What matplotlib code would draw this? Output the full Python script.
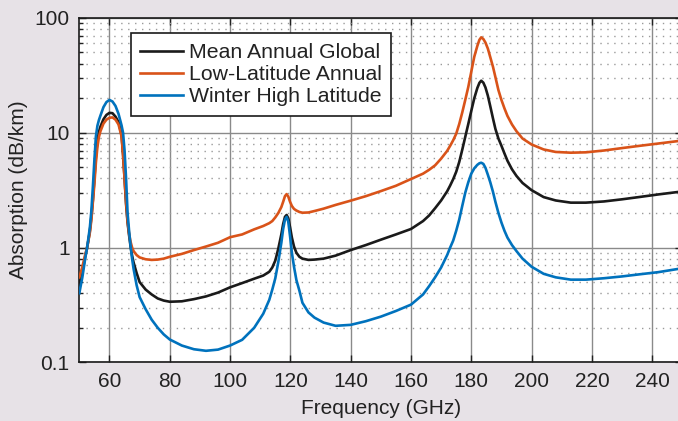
import numpy as np
import matplotlib.pyplot as plt
from matplotlib.ticker import FixedLocator, FixedFormatter, LogLocator, NullFormatter

# frequency grid (GHz)
freq = [50, 50.5, 51, 51.5, 52, 52.5, 53, 53.5, 54, 54.5, 55, 55.5, 56, 56.5, 57,
        58, 59, 60, 61, 62, 63, 64,
        64.5, 65, 65.5, 66, 66.5, 67, 67.5, 68, 69, 70,
        72, 74, 76, 78, 80, 84, 88, 92, 96, 100, 104, 108, 111,
        113, 114, 115, 116, 117, 117.6, 118.2, 118.75, 119.3, 119.9, 120.5, 121.2, 122, 123, 124,
        126, 128, 131, 135, 140, 145, 150, 155, 160,
        164, 166, 168, 170, 172, 173, 174,
        175, 176, 177, 178, 179, 180, 181, 182, 182.7, 183.3, 184, 184.7, 185.5, 186.3, 187.2,
        188, 189, 190, 191, 192, 193.5, 195, 197, 200,
        204, 208, 213, 218, 224, 230, 236, 242, 250]

mean_global = [0.47, 0.54, 0.62, 0.72, 0.85, 0.97, 1.15, 1.4, 1.85, 2.6, 4.0, 6.2, 8.5, 10.2, 11.3,
               13.1, 14.3, 14.9, 14.8, 13.8, 12.4, 9.6,
               6.5, 4.0, 2.4, 1.65, 1.28, 1.02, 0.85, 0.74, 0.6, 0.5,
               0.43, 0.39, 0.36, 0.345, 0.337, 0.34, 0.355, 0.375, 0.405, 0.45, 0.49, 0.535, 0.57,
               0.615, 0.67, 0.77, 0.98, 1.3, 1.6, 1.85, 1.92, 1.8, 1.5, 1.22, 1.02, 0.9, 0.83, 0.8,
               0.78, 0.785, 0.8, 0.85, 0.95, 1.05, 1.17, 1.3, 1.45,
               1.7, 1.9, 2.2, 2.57, 3.09, 3.47, 3.94,
               4.57, 5.56, 7.1, 9.2, 11.9, 15.5, 20, 24.5, 27.2, 28.4, 27.3, 24.8, 21, 17, 13.3,
               10.8, 8.9, 7.7, 6.6, 5.7, 4.8, 4.2, 3.65, 3.16,
               2.75, 2.57, 2.46, 2.46, 2.52, 2.63, 2.76, 2.9, 3.08]

low_lat = [0.55, 0.61, 0.68, 0.77, 0.88, 0.98, 1.15, 1.35, 1.75, 2.5, 3.6, 5.5, 7.5, 9.2, 10.3,
           12.0, 13.0, 13.5, 13.6, 13.0, 11.8, 9.3,
           6.5, 4.0, 2.5, 1.7, 1.32, 1.12, 1.0, 0.93, 0.86, 0.82,
           0.79, 0.78, 0.785, 0.8, 0.83, 0.88, 0.95, 1.02, 1.1, 1.23, 1.3, 1.44, 1.54,
           1.63, 1.7, 1.83, 2.0, 2.25, 2.5, 2.8, 2.92, 2.78, 2.5, 2.3, 2.17, 2.1, 2.04, 2.01,
           2.02, 2.08, 2.18, 2.35, 2.56, 2.8, 3.1, 3.45, 3.95,
           4.4, 4.75, 5.2, 5.95, 6.95, 7.7, 8.6,
           9.8, 11.9, 15.0, 19.3, 25, 34, 46, 57, 64.5, 67.8, 65.5, 61, 54, 45.5, 37.5,
           30.5, 23.5, 19.3, 16.3, 14, 11.8, 10.3, 8.9, 7.9,
           7.15, 6.8, 6.7, 6.75, 7.0, 7.35, 7.7, 8.05, 8.55]

winter_high = [0.40, 0.47, 0.55, 0.67, 0.82, 0.97, 1.2, 1.5, 2.1, 3.4, 5.8, 9.3, 11.5, 12.9, 14.1,
               16.7, 18.5, 19.3, 18.7, 17.1, 14.6, 11.6,
               10.0, 7.0, 4.0, 2.0, 1.4, 1.03, 0.8, 0.65, 0.47, 0.37,
               0.29, 0.235, 0.2, 0.175, 0.158, 0.14, 0.13, 0.126, 0.129, 0.14, 0.157, 0.2, 0.265,
               0.35, 0.43, 0.54, 0.75, 1.1, 1.45, 1.75, 1.85, 1.68, 1.25, 0.9, 0.68, 0.52, 0.42, 0.33,
               0.272, 0.245, 0.222, 0.208, 0.212, 0.228, 0.25, 0.28, 0.318,
               0.39, 0.46, 0.55, 0.67, 0.86, 1.0, 1.15,
               1.4, 1.75, 2.3, 3.0, 3.7, 4.4, 4.9, 5.25, 5.42, 5.48, 5.35, 4.95, 4.3, 3.7, 3.05,
               2.5, 2.0, 1.65, 1.4, 1.22, 1.05, 0.93, 0.8, 0.68,
               0.59, 0.55, 0.525, 0.525, 0.54, 0.56, 0.585, 0.61, 0.66]

labels = ['Mean Annual Global', 'Low-Latitude Annual', 'Winter High Latitude']
colors = ['#1a1a1a', '#d95319', '#0072bd']
xticks = [60, 80, 100, 120, 140, 160, 180, 200, 220, 240]
yticks = [0.1, 1, 10, 100]
ytick_labels = ['0.1', '1', '10', '100']

plt.rcParams['font.family'] = ['Liberation Sans', 'DejaVu Sans']
txt = '#222222'

fig = plt.figure(figsize=(6.78, 4.21), dpi=100, facecolor='#e7e2e7')
ax = fig.add_axes([0.117, 0.1394, 0.8894, 0.818])
ax.set_facecolor('white')

for y, lab, c in zip([mean_global, low_lat, winter_high], labels, colors):
    ax.plot(freq, y, color=c, lw=1.9, label=lab, zorder=3)

ax.set_yscale('log')
ax.set_xlim(50, 250)
ax.set_ylim(0.1, 100)
ax.xaxis.set_major_locator(FixedLocator(xticks))
ax.yaxis.set_major_locator(FixedLocator(yticks))
ax.yaxis.set_major_formatter(FixedFormatter(ytick_labels))
ax.yaxis.set_minor_locator(LogLocator(base=10, subs=np.arange(2, 10)))
ax.yaxis.set_minor_formatter(NullFormatter())

ax.grid(True, which='major', color='#8a8a8a', lw=1.0, ls='-', zorder=1)
ax.grid(True, which='minor', axis='y', color='#9a9a9a', lw=1.0, ls=(0, (1, 4)), zorder=1)

ax.tick_params(which='both', direction='in', top=True, right=True, labelsize=15,
               colors=txt, width=1.0)
ax.tick_params(which='major', length=5)
ax.tick_params(which='minor', length=3)
ax.tick_params(axis='x', pad=7)
ax.tick_params(axis='y', pad=7)
for s in ax.spines.values():
    s.set_color('#1a1a1a')
    s.set_linewidth(1.2)

ax.set_xlabel('Frequency (GHz)', fontsize=15, color=txt, labelpad=6)
ax.set_ylabel('Absorption (dB/km)', fontsize=15, color=txt, labelpad=5)

leg = ax.legend(loc='upper left', bbox_to_anchor=(0.085, 0.955), borderaxespad=0,
                fontsize=15.3, frameon=True, fancybox=False, edgecolor='#1a1a1a',
                handlelength=2.0, handletextpad=0.3, labelspacing=0.15,
                borderpad=0.45, framealpha=1)
leg.get_frame().set_linewidth(1.2)
for t in leg.get_texts():
    t.set_color(txt)

fig.savefig('out.png', dpi=100, facecolor=fig.get_facecolor())
